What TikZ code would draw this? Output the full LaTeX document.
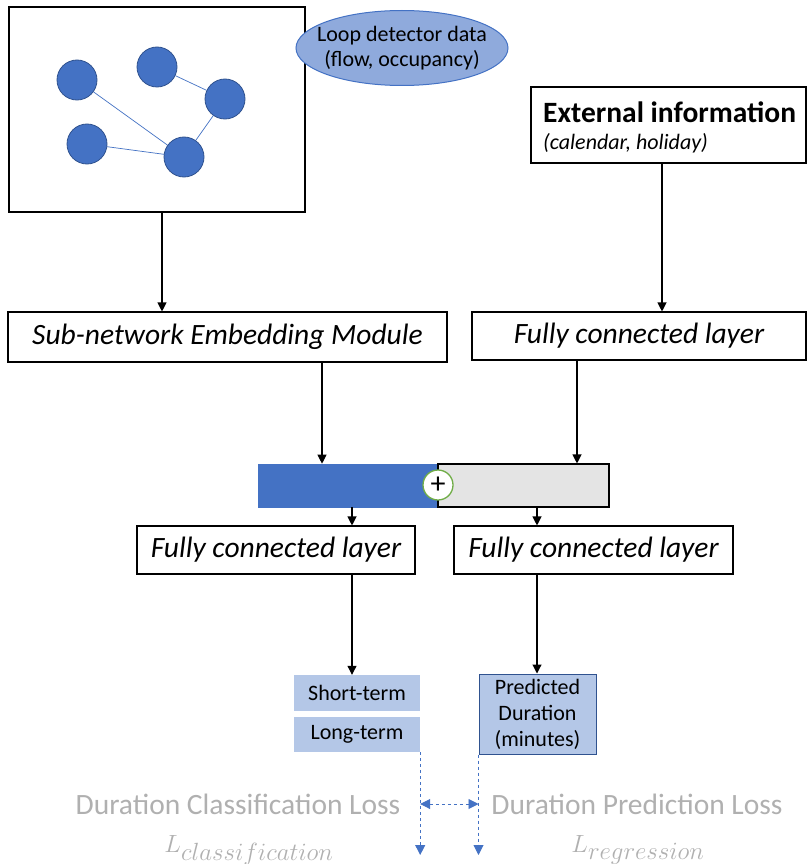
\documentclass[tikz,border=0pt]{standalone}
\usepackage{fontspec}
\setmainfont{Carlito}
\usetikzlibrary{arrows.meta,shapes.geometric}
\definecolor{nodeblue}{HTML}{4472C4}
\definecolor{nodeedge}{HTML}{2F528F}
\definecolor{ellfill}{HTML}{8FAADC}
\definecolor{outfill}{HTML}{B4C7E7}
\definecolor{barGray}{HTML}{E4E4E4}
\definecolor{plusgreen}{HTML}{70AD47}
\definecolor{lossgray}{HTML}{B0B0B0}
\tikzset{
  box/.style={draw=black, line width=1.1pt, fill=white, inner sep=0pt},
  gnode/.style={circle, fill=nodeblue, draw=nodeedge, line width=0.8pt, minimum size=40pt, inner sep=0pt},
  gedge/.style={draw=nodeblue, line width=0.7pt},
  arr/.style={draw=black, line width=1.1pt, -{Triangle[width=9pt,length=9pt]}},
  darr/.style={draw=nodeblue, line width=0.9pt, dash pattern=on 3pt off 3pt, -{Triangle[width=10pt,length=10pt]}},
  ddarr/.style={draw=nodeblue, line width=0.9pt, dash pattern=on 3pt off 3pt, {Triangle[width=10pt,length=10pt]}-{Triangle[width=10pt,length=10pt]}},
  boxtxt/.style={font=\fontsize{29.5}{34}\selectfont\itshape},
  outbox/.style={fill=outfill, inner sep=0pt, font=\fontsize{22}{26}\selectfont, align=center},
  losstxt/.style={text=lossgray, font=\fontsize{29.5}{34}\selectfont, inner sep=0pt},
  mathtxt/.style={text=lossgray, font=\fontsize{33}{38}\selectfont, inner sep=0pt, anchor=base},
}
\begin{document}
\begin{tikzpicture}[x=1pt,y=-1pt]
\useasboundingbox (0,0) rectangle (807,864);
% top graph box
\node[box, minimum width=296pt, minimum height=205pt] (graph) at (157,109.5) {};
\node[gnode] (c1) at (77,80) {};
\node[gnode] (c2) at (157,67) {};
\node[gnode] (c3) at (225,99) {};
\node[gnode] (c4) at (87,144) {};
\node[gnode] (c5) at (184,157) {};
\draw[gedge] (c1) -- (c5);
\draw[gedge] (c2) -- (c3);
\draw[gedge] (c3) -- (c5);
\draw[gedge] (c4) -- (c5);
% ellipse
\node[ellipse, fill=ellfill, draw=nodeblue, line width=1pt, minimum width=212pt, minimum height=75pt, inner xsep=-12pt, inner ysep=0pt, align=center, font=\fontsize{22}{25}\selectfont] (loop) at (402,48) {Loop detector data\\(flow, occupancy)};
% external info box
\node[box, minimum width=275pt, minimum height=76pt] (ext) at (668.5,125) {};
\node[anchor=base west, inner sep=0pt, font=\fontsize{29.5}{34}\selectfont\bfseries] (extt) at (543,122) {External information};
\node[anchor=base west, inner sep=0pt, font=\fontsize{22}{26}\selectfont\itshape] (exts) at (543,149) {(calendar, holiday)};
% second row
\node[box, minimum width=439pt, minimum height=50pt, boxtxt] (sub) at (227.5,337) {Sub-network Embedding Module};
\node[box, minimum width=334pt, minimum height=48pt, boxtxt] (fc1) at (639,336) {Fully connected layer};
% bar
\node[fill=nodeblue, draw=nodeblue, line width=0.6pt, minimum width=180pt, minimum height=43pt, inner sep=0pt] (blue) at (348,485.5) {};
\node[fill=barGray, draw=black, line width=1.1pt, minimum width=171pt, minimum height=43pt, inner sep=0pt] (gray) at (523.5,485.5) {};
\node[circle, fill=white, draw=plusgreen, line width=1.3pt, minimum size=30pt, inner sep=0pt, font=\fontsize{30}{30}\selectfont] (plus) at (438,485) {+};
% third row
\node[box, minimum width=278pt, minimum height=48pt, boxtxt] (fc2) at (276,550) {Fully connected layer};
\node[box, minimum width=279pt, minimum height=48pt, boxtxt] (fc3) at (593.5,550) {Fully connected layer};
% outputs
\node[outbox, minimum width=126pt, minimum height=36pt] (short) at (357,693) {Short-term};
\node[outbox, minimum width=126pt, minimum height=35pt] (long) at (357,734.5) {Long-term};
\node[outbox, draw=nodeedge, line width=1pt, minimum width=117pt, minimum height=80pt] (pred) at (537.5,714) {Predicted\\Duration\\(minutes)};
% loss labels
\node[losstxt] (lc) at (238,804) {Duration Classification Loss};
\node[losstxt] (lr) at (637,804) {Duration Prediction Loss};
\node[mathtxt] (mc) at (249,852) {$L_{classification}$};
\node[mathtxt] (mr) at (638,852) {$L_{regression}$};
% helper coordinates
\coordinate (xa) at (162,0);
\coordinate (xb) at (662,0);
\coordinate (xc) at (322,0);
\coordinate (xd) at (577,0);
\coordinate (xe) at (352,0);
\coordinate (xf) at (537,0);
\coordinate (ya) at (0,855);
\coordinate (yb) at (0,804);
% arrows
\draw[arr] (graph.south -| xa) -- (sub.north -| xa);
\draw[arr] (ext.south -| xb) -- (fc1.north -| xb);
\draw[arr] (sub.south -| xc) -- (blue.north -| xc);
\draw[arr] (fc1.south -| xd) -- (gray.north -| xd);
\draw[arr] (blue.south -| xe) -- (fc2.north -| xe);
\draw[arr] (gray.south -| xf) -- (fc3.north -| xf);
\draw[arr] (fc2.south -| xe) -- (short.north -| xe);
\draw[arr] (fc3.south -| xf) -- (pred.north -| xf);
% dashed
\draw[darr] (long.south east) -- (long.south east |- ya);
\draw[darr] (pred.south west) -- (pred.south west |- ya);
\draw[ddarr] (long.south east |- yb) -- (pred.south west |- yb);
\end{tikzpicture}
\end{document}
